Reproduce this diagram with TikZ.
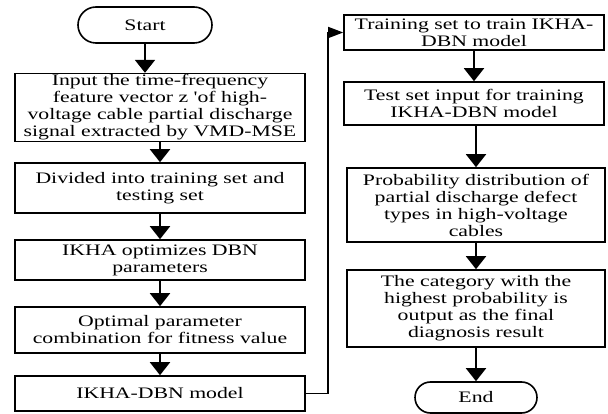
\documentclass[tikz,border=0pt]{standalone}
\usepackage{fontspec}
\setmainfont{Liberation Serif}[FakeStretch=1.36, Ligatures=TeXOff]
\usetikzlibrary{arrows.meta}

\begin{document}
\begin{tikzpicture}[
        x=1pt, y=-1pt,
        every node/.style={font=\fontsize{16}{17}\selectfont, align=center, inner sep=1pt},
        box/.style 2 args={draw, line width=1.6pt, minimum width=#1pt, minimum height=#2pt},
        term/.style 2 args={draw, line width=1.6pt, rounded corners=#2pt/2, minimum width=#1pt, minimum height=#2pt},
        flow/.style={line width=2pt, -{Triangle[width=20pt,length=13pt]}},
        link/.style={line width=1.6pt, -{Triangle[width=11pt,length=15pt]}}
    ]
    \useasboundingbox (0,0) rectangle (608,414);
    % left column
    \node[term={134}{36}] (start) at (145,25) {Start};
    \node[box={290}{66}] (input) at (160,107.5) {Input the time-frequency\\feature vector z 'of high-\\voltage cable partial discharge\\signal extracted by VMD-MSE};
    \node[box={290}{50}] (divided) at (160,188) {Divided into training set and\\testing set};
    \node[box={290}{40}] (optim) at (160,260) {IKHA optimizes DBN\\parameters};
    \node[box={290}{46}] (optimal) at (160,330) {Optimal parameter\\combination for fitness value};
    \node[box={290}{35}] (model) at (160,393.5) {IKHA-DBN model};
    % right column
    \node[box={260}{35}] (train) at (474,32.5) {Training set to train IKHA-\\DBN model};
    \node[box={260}{43}] (test) at (474,103.5) {Test set input for training\\IKHA-DBN model};
    \node[box={258}{74}] (prob) at (476,205) {Probability distribution of\\partial discharge defect\\types in high-voltage\\cables};
    \node[box={258}{77}] (cat) at (476,308.5) {The category with the\\highest probability is\\output as the final\\diagnosis result};
    \node[term={122}{31}] (end) at (476,397.5) {End};
    % arrows
    \draw[flow] (start.south) -- (start.south |- input.north);
    \draw[flow] (input) -- (divided);
    \draw[flow] (divided) -- (optim);
    \draw[flow] (optim) -- (optimal);
    \draw[flow] (optimal.south) -- (optimal.south |- model.north);
    \draw[link] (model.east) -- ++(22,0) |- (train.west);
    \draw[flow] (train) -- (test);
    \draw[flow] (prob.north |- test.south) -- (prob.north);
    \draw[flow] (prob) -- (cat);
    \draw[flow] (cat) -- (end);
\end{tikzpicture}
\end{document}
